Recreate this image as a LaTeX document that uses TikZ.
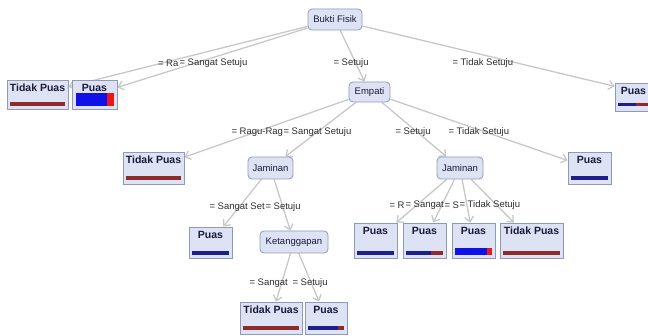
\documentclass[tikz,border=0pt]{standalone}
\usepackage{fontspec}
\setmainfont{Liberation Sans}
\usetikzlibrary{arrows.meta}
\pgfdeclarelayer{bg}
\pgfsetlayers{bg,main}
\definecolor{boxfill}{HTML}{DDE3F4}
\definecolor{boxline}{HTML}{8E9AB8}
\definecolor{edgecol}{HTML}{C8C8C8}
\definecolor{navy}{HTML}{1E1E8C}
\definecolor{dred}{HTML}{8E2B2B}
\definecolor{bblue}{HTML}{1010E8}
\definecolor{bred}{HTML}{E81818}
\definecolor{labcol}{HTML}{2E2E2E}
\definecolor{txtcol}{HTML}{1A1A3A}
\tikzset{
 inner/.style={draw=boxline, fill=boxfill, rounded corners=4pt, line width=0.8pt, inner sep=0pt, font=\fontsize{9.5}{11}\selectfont, text=txtcol},
 leafbox/.style={draw=boxline, fill=boxfill, line width=0.8pt, inner sep=0pt},
 leaftext/.style={anchor=north, inner sep=0pt, yshift=-4pt, font=\fontsize{10.5}{12}\selectfont\bfseries, text=txtcol},
 edge/.style={draw=edgecol, line width=1.3pt, -{Straight Barb[length=5pt,width=9pt,line width=1.3pt]}},
 elab/.style={font=\fontsize{9.5}{11}\selectfont, text=labcol, inner sep=0.3pt, anchor=west},
}
\newcommand\leafnode[7][]{%
 \node[leafbox, minimum width={#5-#3}, minimum height={#6-#4}] (#2) at ({(#3+#5)/2},{(#4+#6)/2}) {};
 \node[leaftext,#1] (#2t) at (#2.north) {#7};}
\begin{document}
\begin{tikzpicture}[x=1pt,y=-1pt]
\useasboundingbox (0,0) rectangle (648,336);
\begin{pgfonlayer}{bg}
\fill[white] (0,0) rectangle (648,336);
\end{pgfonlayer}
\clip (0,0) rectangle (648,336);
% inner nodes
\node[inner, minimum width=54pt, minimum height=21pt] (bf) at (335,19.5) {Bukti Fisik};
\node[inner, minimum width=41pt, minimum height=20pt] (emp) at (369.5,92) {Empati};
\node[inner, minimum width=45pt, minimum height=22pt] (jl) at (270.5,168) {Jaminan};
\node[inner, minimum width=46pt, minimum height=22pt] (jr) at (460,168) {Jaminan};
\node[inner, minimum width=68pt, minimum height=22pt] (ket) at (294,242) {Ketanggapan};
% leaves
\leafnode{l1}{7}{80}{68}{109}{Tidak Puas}
\leafnode{l2}{72}{80}{117}{109}{Puas}
\leafnode[xshift=-4pt]{rp}{615}{83}{660}{111}{Puas}
\leafnode{m1}{123}{152}{184}{184}{Tidak Puas}
\leafnode{m2}{568}{152}{611}{184}{Puas}
\leafnode{b1}{189}{227}{232}{258}{Puas}
\leafnode{k1}{240}{302}{302}{334}{Tidak Puas}
\leafnode{k2}{305}{302}{347}{334}{Puas}
\leafnode{r1}{354}{223}{397}{258}{Puas}
\leafnode{r2}{403}{223}{446}{258}{Puas}
\leafnode{r3}{452}{223}{495}{258}{Puas}
\leafnode{r4}{500}{223}{563}{258}{Tidak Puas}
% bars
\fill[dred] (10,102) rectangle (65,106);
\fill[bblue] (76,93) rectangle (107,106);
\fill[bred] (107,93) rectangle (114,106);
\fill[navy] (618,103) rectangle (636,106);
\fill[dred] (636,103) rectangle (657,106);
\fill[dred] (126,176) rectangle (181,180);
\fill[navy] (571,176) rectangle (608,180);
\fill[navy] (192,251) rectangle (229,255);
\fill[dred] (243,326) rectangle (299,330);
\fill[navy] (308,326) rectangle (338,330);
\fill[dred] (338,326) rectangle (344,330);
\fill[navy] (357,251) rectangle (394,255);
\fill[navy] (406,251) rectangle (431,255);
\fill[dred] (431,251) rectangle (443,255);
\fill[bblue] (455,248) rectangle (487,255);
\fill[bred] (487,248) rectangle (492,255);
\fill[dred] (503,251) rectangle (560,255);
% edges
\begin{pgfonlayer}{bg}
\draw[edge] (bf) -- (l1);
\draw[edge] (bf) -- (l2);
\draw[edge] (bf) -- (emp);
\draw[edge] (bf) -- (rp.155);
\draw[edge] (emp) -- (m1);
\draw[edge] (emp) -- (jl);
\draw[edge] (emp) -- (jr);
\draw[edge] (emp) -- (m2);
\draw[edge] (jl) -- (b1);
\draw[edge] (jl) -- (ket);
\draw[edge] (ket) -- (k1);
\draw[edge] (ket) -- (k2);
\draw[edge] (jr) -- (r1);
\draw[edge] (jr) -- (r2);
\draw[edge] (jr) -- (r3);
\draw[edge] (jr) -- (r4);
\end{pgfonlayer}
% edge labels
\node[elab] (a1) at (157.5,63) {= Ra};
\node[elab] (a2) at (179,63) {= Sangat Setuju};
\node[elab] (a3) at (333,63) {= Setuju};
\node[elab] (a4) at (452,63) {= Tidak Setuju};
\node[elab] (c1) at (231,132) {= Ragu-Rag};
\node[elab] (c2) at (283,132) {= Sangat Setuju};
\node[elab] (c3) at (395,132) {= Setuju};
\node[elab] (c4) at (448,132) {= Tidak Setuju};
\node[elab] (d1) at (209,207) {= Sangat Set};
\node[elab] (d2) at (265,207) {= Setuju};
\node[elab] (e1) at (249,283) {= Sangat};
\node[elab] (e2) at (292,283) {= Setuju};
\node[elab] (f1) at (389,205) {= R};
\node[elab] (f2) at (405,205) {= Sangat};
\node[elab] (f3) at (444,205) {= S};
\node[elab] (f4) at (459,205) {= Tidak Setuju};
\end{tikzpicture}
\end{document}
